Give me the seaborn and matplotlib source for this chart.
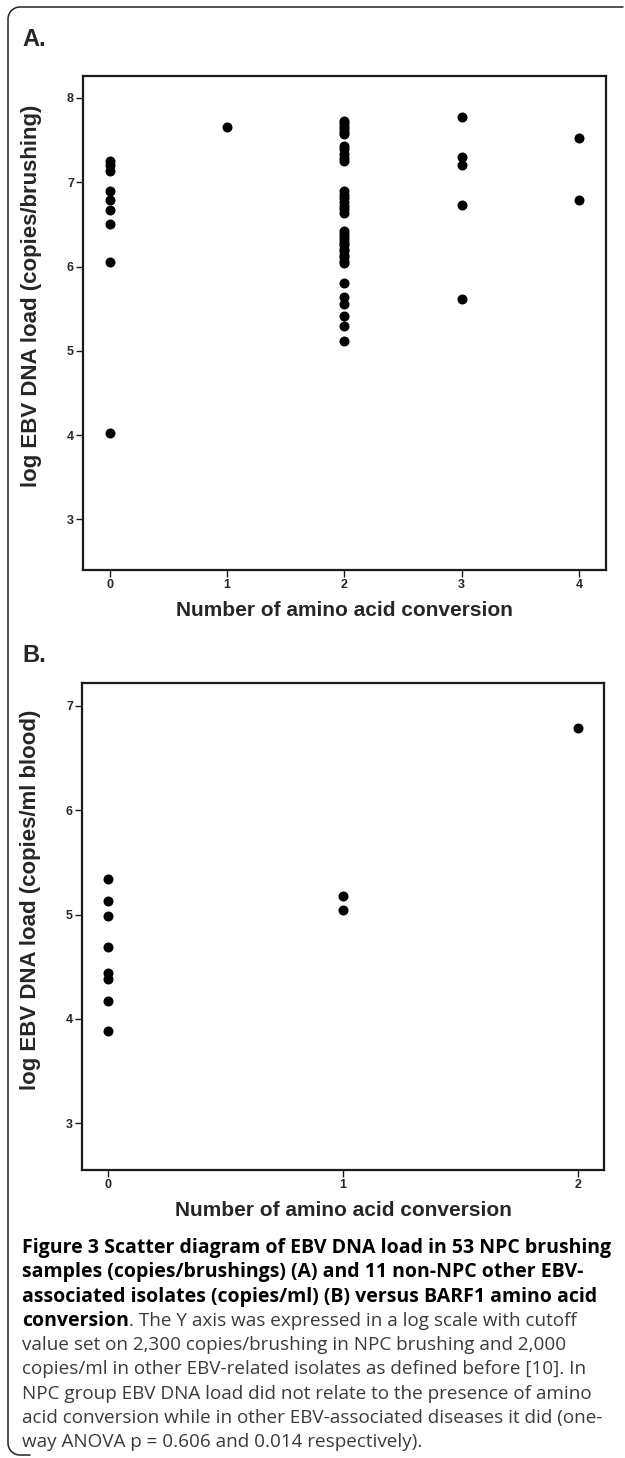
import numpy as np
import pandas as pd
import seaborn as sns
import matplotlib.pyplot as plt
from matplotlib.lines import Line2D

# panel A: NPC brushing samples, log EBV DNA load per number of conversions
a_conv0 = [7.25, 7.20, 7.13, 6.90, 6.79, 6.67, 6.51, 6.05, 4.03]
a_conv1 = [7.66]
a_conv2 = [7.73, 7.70, 7.67, 7.63, 7.60, 7.57, 7.43, 7.39, 7.34, 7.29, 7.25,
           6.89, 6.85, 6.81, 6.76, 6.72, 6.68, 6.64,
           6.42, 6.39, 6.35, 6.32, 6.28, 6.25, 6.21, 6.18, 6.14, 6.11, 6.07, 6.04,
           5.80, 5.64, 5.55, 5.41, 5.29, 5.12]
a_conv3 = [7.77, 7.30, 7.21, 6.73, 5.62]
a_conv4 = [7.52, 6.79]

# panel B: non-NPC EBV-associated isolates
b_conv0 = [5.34, 5.13, 4.99, 4.69, 4.44, 4.38, 4.17, 3.88]
b_conv1 = [5.18, 5.04]
b_conv2 = [6.79]

a_ticks_y = [3, 4, 5, 6, 7, 8]
b_ticks_y = [3, 4, 5, 6, 7]


def to_frame(groups):
    rows = []
    for n, vals in enumerate(groups):
        rows += [(n, v) for v in vals]
    return pd.DataFrame(rows, columns=["conv", "load"])


df_a = to_frame([a_conv0, a_conv1, a_conv2, a_conv3, a_conv4])
df_b = to_frame([b_conv0, b_conv1, b_conv2])

sns.set_style("ticks")
plt.rcParams['font.family'] = ['Liberation Sans', 'DejaVu Sans']

W, H = 625, 1458
fig = plt.figure(figsize=(W / 100, H / 100), dpi=100)
ax_a = fig.add_axes([83 / W, 1 - 570 / H, 523 / W, 494 / H])
ax_b = fig.add_axes([82 / W, 1 - 1170 / H, 522 / W, 487 / H])


def style(ax, df, xlim, ylim, yticks, ylabel):
    sns.scatterplot(data=df, x="conv", y="load", ax=ax, color="black",
                    s=52, linewidth=0, legend=False)
    ax.set_xlim(*xlim)
    ax.set_ylim(*ylim)
    ax.set_xticks(sorted(df["conv"].unique()))
    ax.set_yticks(yticks)
    for sp in ax.spines.values():
        sp.set_linewidth(1.6)
        sp.set_color("#1a1a1a")
    ax.tick_params(direction="out", length=5, width=1.0, color="#1a1a1a",
                   labelsize=9, pad=1.5)
    for lab in ax.get_xticklabels() + ax.get_yticklabels():
        lab.set_fontweight("bold")
    ax.set_xlabel("Number of amino acid conversion", fontsize=15,
                  fontweight="bold", labelpad=7)
    ax.set_ylabel(ylabel, fontsize=16, fontweight="bold")
    ax.yaxis.set_label_coords(-0.078, 0.555)


style(ax_a, df_a, (-0.227, 4.23), (2.4, 8.26), a_ticks_y,
      "log EBV DNA load (copies/brushing)")
style(ax_b, df_b, (-0.11, 2.11), (2.55, 7.22), b_ticks_y,
      "log EBV DNA load (copies/ml blood)")

fig.text(22 / W, 1 - 40 / H, "A.", fontsize=17, fontweight="bold", va="center")
fig.text(22 / W, 1 - 655 / H, "B.", fontsize=17, fontweight="bold", va="center")

# outer rounded frame (top and left side)
r = 12
t = np.linspace(0, np.pi / 2, 20)
xs = np.concatenate([[623], 8 + r - r * np.sin(t), [8, 8], 8 + r - r * np.cos(t), [30]])
ys = np.concatenate([[7], 7 + r - r * np.cos(t), [7 + r, 1455 - r],
                     1455 - r + r * np.sin(t), [1455]])
fig.add_artist(Line2D(xs / W, 1 - ys / H, transform=fig.transFigure,
                      color="#222222", linewidth=1.1))

# caption
cap_font = ['Open Sans', 'DejaVu Sans']
bold_size = 14.0
reg_size = 13.6
gray = "#3a3a3a"
x0 = 22 / W
line_y = [1248 + 24.3 * i for i in range(9)]
bold_lines = [
    "Figure 3 Scatter diagram of EBV DNA load in 53 NPC brushing",
    "samples (copies/brushings) (A) and 11 non-NPC other EBV-",
    "associated isolates (copies/ml) (B) versus BARF1 amino acid",
]
for i, s in enumerate(bold_lines):
    fig.text(x0, 1 - line_y[i] / H, s, fontsize=bold_size, fontweight="bold",
             family=cap_font, va="center", color="black")

bt = fig.text(x0, 1 - line_y[3] / H, "conversion", fontsize=bold_size,
              fontweight="bold", family=cap_font, va="center", color="black")
rend = fig.canvas.get_renderer()
bb = bt.get_window_extent(renderer=rend)
fig.text(bb.x1 / W, 1 - line_y[3] / H, ". The Y axis was expressed in a log scale with cutoff",
         fontsize=reg_size, family=cap_font, va="center", color=gray)

reg_lines = [
    "value set on 2,300 copies/brushing in NPC brushing and 2,000",
    "copies/ml in other EBV-related isolates as defined before [10]. In",
    "NPC group EBV DNA load did not relate to the presence of amino",
    "acid conversion while in other EBV-associated diseases it did (one-",
    "way ANOVA p = 0.606 and 0.014 respectively).",
]
for i, s in enumerate(reg_lines):
    fig.text(x0, 1 - line_y[4 + i] / H, s, fontsize=reg_size, family=cap_font,
             va="center", color=gray)

fig.savefig("out.png", dpi=100)
